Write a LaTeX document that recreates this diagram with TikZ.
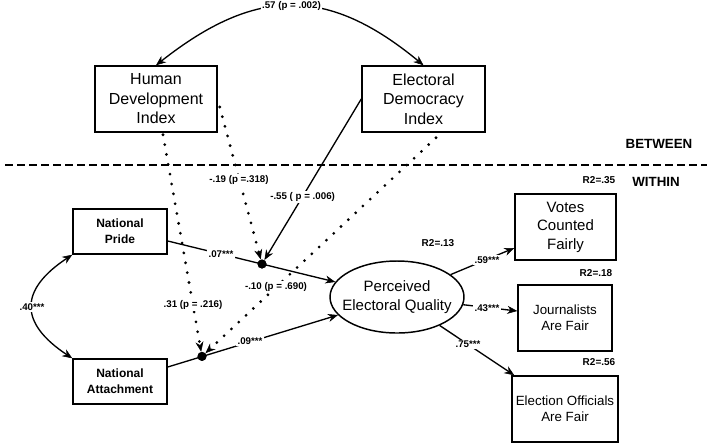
\documentclass[tikz,border=0pt]{standalone}
\usepackage{fontspec}
\setmainfont{Liberation Sans}
\usetikzlibrary{arrows.meta,calc,shapes.geometric}
\begin{document}
\begin{tikzpicture}[x=0.75pt,y=-0.75pt,
  box/.style={draw, line width=1.1pt, inner sep=0pt, align=center},
  bigtext/.style={font=\fontsize{12}{14.6}\selectfont},
  midtext/.style={font=\fontsize{11.25}{13.9}\selectfont},
  smalltext/.style={font=\fontsize{10}{12}\selectfont},
  predtext/.style={font=\bfseries\fontsize{9}{12}\selectfont},
  lab/.style={fill=white, inner sep=1pt, font=\bfseries\fontsize{7.3}{9}\selectfont},
  rlab/.style={inner sep=0pt, font=\bfseries\fontsize{7.5}{9}\selectfont},
  level/.style={inner sep=0pt, font=\bfseries\fontsize{10}{12}\selectfont},
  conn/.style={line width=1pt},
  dotline/.style={line width=2.3pt, line cap=round, dash pattern=on 0pt off 7.5pt},
  dotnode/.style={circle, fill=black, inner sep=0pt, minimum size=6.75pt},
  >={Stealth[length=7.5pt,width=6pt,inset=2.5pt,line width=0.4pt]}
]
\useasboundingbox (0,0) rectangle (709,444);

% boxes
\node[box,bigtext,minimum width=122*0.75pt,minimum height=66*0.75pt] (hdi) at (156,99) {Human\\Development\\Index};
\node[box,bigtext,minimum width=123*0.75pt,minimum height=66*0.75pt] (edi) at (423.5,99) {Electoral\\Democracy\\Index};
\node[box,predtext,minimum width=94*0.75pt,minimum height=45*0.75pt] (np) at (120,231.5) {National\\Pride};
\node[box,predtext,minimum width=94*0.75pt,minimum height=45*0.75pt] (na) at (120,381.5) {National\\Attachment};
\node[box,midtext,minimum width=101*0.75pt,minimum height=66*0.75pt] (votes) at (565.5,227) {Votes\\Counted\\Fairly};
\node[box,smalltext,minimum width=94*0.75pt,minimum height=66*0.75pt] (jour) at (565,318) {Journalists\\Are Fair};
\node[box,smalltext,minimum width=106*0.75pt,minimum height=66*0.75pt] (eo) at (565,409) {Election Officials\\Are Fair};
\node[ellipse,draw,line width=1.1pt,inner sep=0pt,minimum width=134*0.75pt,minimum height=72*0.75pt,
  label={[align=center,midtext]center:Perceived\\Electoral Quality}] (pq) at (397,297) {};

% interaction points
\node[dotnode] (dot1) at (262,264) {};
\node[dotnode] (dot2) at (202,356.4) {};

% coordinates
\coordinate (npout) at ($(np.east)+(0,9.5)$);
\coordinate (naout) at ($(na.east)+(0,-14.5)$);
\coordinate (hdiA) at ($(hdi.east)+(2,8)$);
\coordinate (hdiB) at ($(hdi.south)+(7,2)$);
\coordinate (ediB) at ($(edi.south)+(12.5,5)$);
\coordinate (votesin) at ($(votes.west)+(0,21)$);
\coordinate (jourin) at ($(jour.west)+(0,-7)$);
\coordinate (eoin) at ($(eo.north west)+(3,0)$);

% between-level correlation
\draw[conn,<->] (hdi.north) .. controls (256,-13.7) and (328,-13.7) .. (edi.north)
  node[lab,pos=0.5] (l57) {.57 (p = .002)};

% separator
\draw[line width=1.1pt, dash pattern=on 6pt off 3pt] (5,165) -- (707,165);
\node[level] (between) at (659,144) {BETWEEN};
\node[level] (within) at (656,182) {WITHIN};

% within correlation
\draw[conn,<->] (np.south west) .. controls (19,290) and (19,323) .. (na.north west);
\node[lab] (l40) at (32,307) {.40***};

% main paths
\draw[conn,->] (npout) -- (pq);
\draw[conn,->] (naout) -- (pq);
\node[lab] (l07) at (221,254) {.07***};
\node[lab] (l09) at (250,341.5) {.09***};

% cross-level moderation
\draw[conn,->] (edi.west) -- (dot1);
\draw[dotline,->] (hdiA) -- (dot1);
\draw[dotline,->] (hdiB) -- (dot2);
\draw[dotline,->] (ediB) -- (dot2);
\node[lab] (l55) at (302.6,197) {-.55 ( p = .006)};
\node[lab] (l19) at (239,180) {-.19 (p =.318)};
\node[lab] (l31) at (193,305) {.31 (p = .216)};
\node[lab] (l10) at (276,287) {-.10 (p = .690)};

% redraw dots on top
\node[dotnode] at (dot1) {};
\node[dotnode] at (dot2) {};

% outcomes
\draw[conn,->] (pq) -- (votesin);
\draw[conn,->] (pq) -- (jourin);
\draw[conn,->] (pq) -- (eoin);
\node[lab] (l59) at (487,260) {.59***};
\node[lab] (l43) at (487,308) {.43***};
\node[lab] (l75) at (468,344.5) {.75***};

% R2
\node[rlab] (r35) at (599,180) {R2=.35};
\node[rlab] (r13) at (438,243) {R2=.13};
\node[rlab] (r18) at (596,273) {R2=.18};
\node[rlab] (r56) at (599,362) {R2=.56};
\end{tikzpicture}
\end{document}
